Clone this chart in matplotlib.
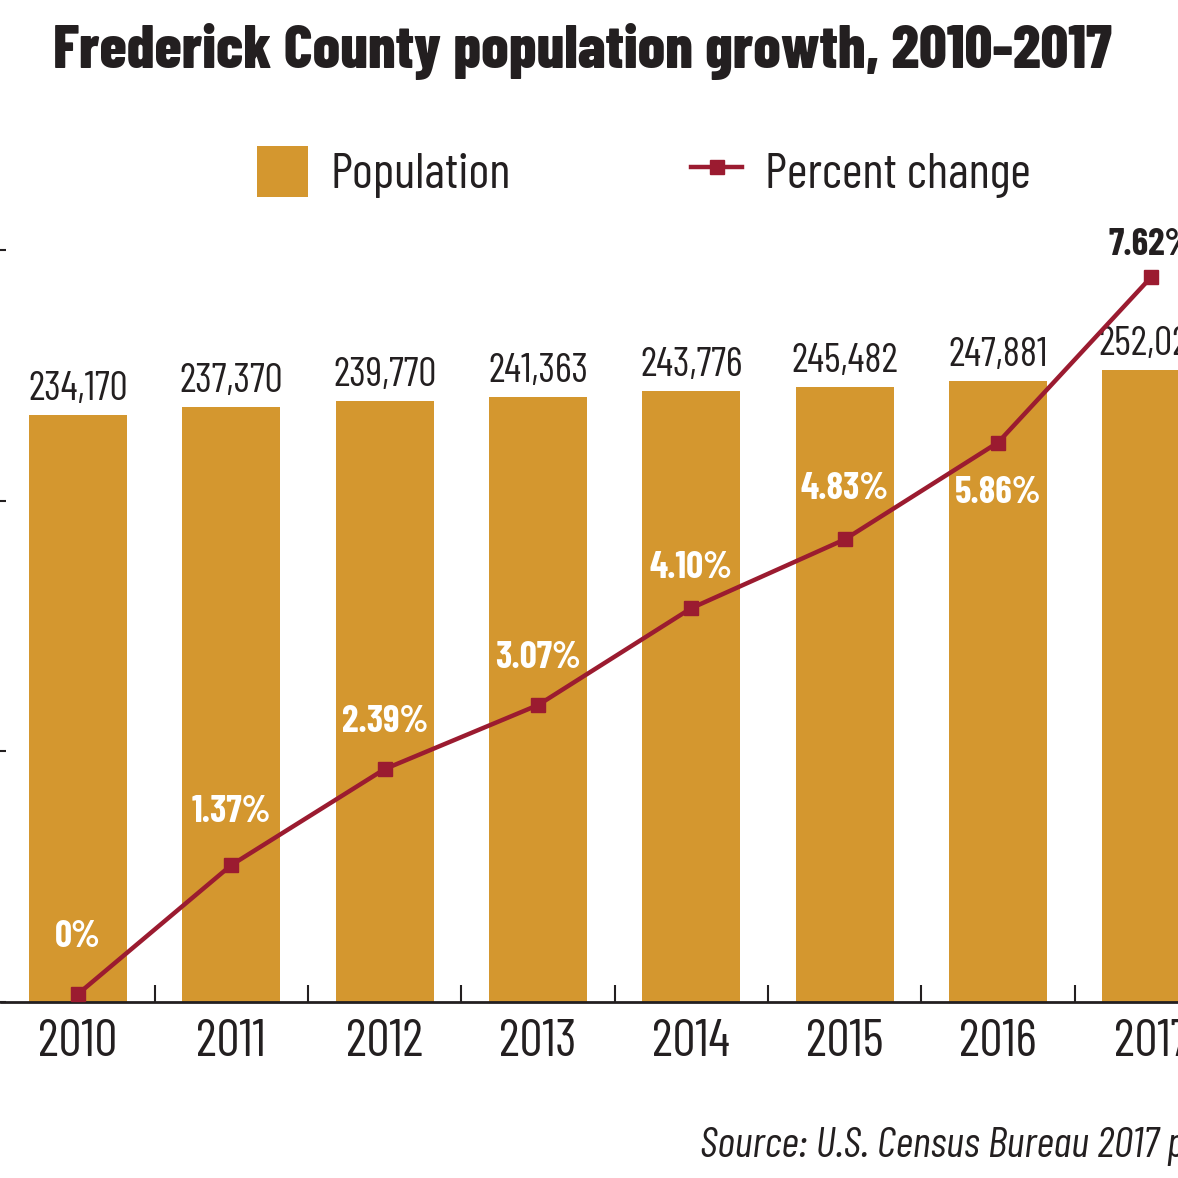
import matplotlib
matplotlib.use("Agg")
import matplotlib.pyplot as plt
import matplotlib.ticker as ticker
from matplotlib.patches import Patch
from matplotlib.lines import Line2D

# 数据
years = ["2010", "2011", "2012", "2013", "2014", "2015", "2016", "2017"]
population = [234170, 237370, 239770, 241363, 243776, 245482, 247881, 252022]
pct_change = [0, 1.37, 2.39, 3.07, 4.10, 4.83, 5.86, 7.62]

BAR_COLOR = "#D4972F"
LINE_COLOR = "#9B1B30"
TEXT_COLOR = "#231F20"

plt.rcParams['font.family'] = ['Barlow Condensed', 'DejaVu Sans']

W = H = 1178.0
fig = plt.figure(figsize=(11.78, 11.78), dpi=100)

# 坐标轴位置 (像素 -> 比例)
left_px, right_px = 1.3, 1228.0
bottom_px, top_px = 1002.0, 250.0
ax = fig.add_axes([left_px / W, 1 - bottom_px / H, (right_px - left_px) / W, (bottom_px - top_px) / H])

x = list(range(len(years)))
ax.bar(x, population, width=0.64, color=BAR_COLOR, zorder=2)
ax.set_xlim(-0.5, 7.5)
ax.set_ylim(0, 300000)

for i, v in enumerate(population):
    ax.annotate(f"{v:,}", (i, v), xytext=(0, 5), textcoords='offset points',
                ha='center', va='bottom', fontsize=29, color=TEXT_COLOR)

ax.set_xticks(x)
ax.set_xticklabels(years, fontsize=37, color=TEXT_COLOR)
ax.xaxis.set_minor_locator(ticker.FixedLocator([i + 0.5 for i in range(len(years))]))
ax.tick_params(axis='x', which='major', length=0, pad=12)
ax.tick_params(axis='x', which='minor', direction='in', length=12, width=1.5, color=TEXT_COLOR)
ax.yaxis.set_major_locator(ticker.MultipleLocator(100000))
ax.tick_params(axis='y', which='major', direction='inout', length=7, width=1.5,
               color=TEXT_COLOR, labelleft=False)
for s in ['top', 'right', 'left']:
    ax.spines[s].set_visible(False)
ax.spines['bottom'].set_color(TEXT_COLOR)
ax.spines['bottom'].set_linewidth(2)

# 百分比折线 (次坐标轴)
ax2 = ax.twinx()
ax2.plot(x, pct_change, color=LINE_COLOR, lw=3.2, marker='s', markersize=10, zorder=3)
ax2.set_ylim(-0.085, 7.906)
ax2.set_xlim(-0.5, 7.5)
ax2.axis('off')

pct_label_dy = [41, 38, 34, 34, 29, 36, -36, 23]
for i, v in enumerate(pct_change):
    label = "0%" if v == 0 else f"{v:.2f}%"
    last = i == len(pct_change) - 1
    ax2.annotate(label, (i, v), xytext=(0, pct_label_dy[i]), textcoords='offset points',
                 ha='center', va='center', fontsize=27, fontweight='bold',
                 color=TEXT_COLOR if last else 'white')

# 图例
handles = [Patch(facecolor=BAR_COLOR, label="Population"),
           Line2D([0], [0], color=LINE_COLOR, lw=3.2, marker='s', markersize=10, label="Percent change")]
fig.legend(handles=handles, loc='center', bbox_to_anchor=(644 / W, 1 - 172 / H), ncol=2,
           frameon=False, fontsize=36, handlelength=1.02, handleheight=1.2,
           columnspacing=3.6, handletextpad=0.45, labelcolor=TEXT_COLOR)

fig.text(582 / W, 1 - 52 / H, "Frederick County population growth, 2010-2017",
         ha='center', va='center', fontsize=44, fontweight='heavy', color=TEXT_COLOR)
fig.text(700 / W, 1 - 1147 / H, "Source: U.S. Census Bureau 2017 population estimates",
         ha='left', va='center', fontsize=31, style='italic', color=TEXT_COLOR)

fig.savefig("out.png", dpi=100)
